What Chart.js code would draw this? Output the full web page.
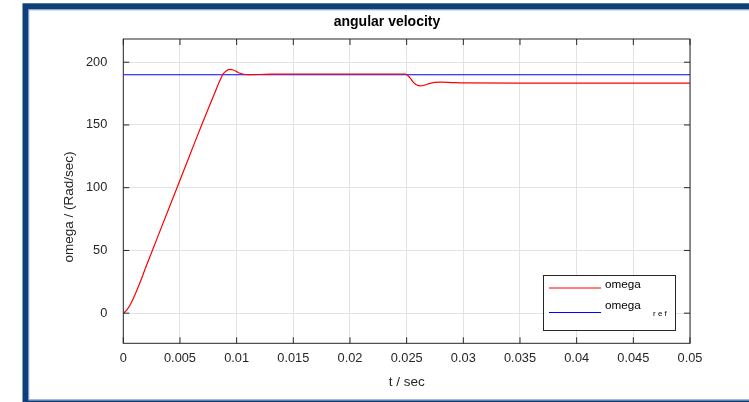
<!DOCTYPE html>
<html>
<head>
<meta charset="utf-8">
<script src="https://cdn.jsdelivr.net/npm/chart.js@4/dist/chart.umd.min.js"></script>
<style>
  html, body { margin: 0; padding: 0; background: #ffffff; overflow: hidden; }
  #wrap { width: 749px; height: 402px; overflow: hidden; }
  #c { display: block; }
</style>
</head>
<body>
<div id="wrap"><canvas id="c" width="749" height="402"></canvas></div>
<script>
// Simulated speed response: time (s) and angular velocity (rad/s)
const timeSec = [0, 0.0003, 0.0006, 0.001, 0.0015, 0.002, 0.003, 0.004, 0.005, 0.006, 0.007, 0.008,
  0.0085, 0.0088, 0.0091, 0.0094, 0.0097, 0.010, 0.0103, 0.0106, 0.011, 0.012, 0.013, 0.015,
  0.020, 0.0249, 0.0253, 0.0256, 0.0259, 0.0262, 0.0266, 0.027, 0.0275, 0.028, 0.029, 0.030,
  0.035, 0.040, 0.045, 0.050];
const omegaVals = [0, 2.5, 6.5, 14, 25, 37, 60, 83, 106, 129, 152, 174,
  185, 190.5, 193.2, 194.3, 193.8, 192.5, 191.2, 190.4, 190.1, 190.2, 190.5, 190.6,
  190.6, 190.6, 187.5, 184, 181.8, 181.1, 181.8, 183, 183.9, 184.1, 183.8, 183.5,
  183.4, 183.4, 183.4, 183.4];

// Reference speed
const refTime = [0, 0.05];
const omegaRef = [190, 190];

// Axis ticks
const xTicks = [0, 0.005, 0.01, 0.015, 0.02, 0.025, 0.03, 0.035, 0.04, 0.045, 0.05];
const xTickLabels = ['0', '0.005', '0.01', '0.015', '0.02', '0.025', '0.03', '0.035', '0.04', '0.045', '0.05'];
const yTicks = [0, 50, 100, 150, 200];
const yMin = -24, yMax = 218.5;

const FONT = '"Liberation Sans", Arial, Helvetica, sans-serif';
const AX = '#262626';

// Figure frame
const framePlugin = {
  id: 'frame',
  beforeDraw(chart) {
    const ctx = chart.ctx;
    ctx.save();
    ctx.fillStyle = '#ffffff';
    ctx.fillRect(0, 0, chart.width, chart.height);
    ctx.strokeStyle = '#0f3f79';
    ctx.lineWidth = 6;
    ctx.strokeRect(25.5, 6.3, 760, 397);
    ctx.strokeStyle = '#7b9ccb';
    ctx.lineWidth = 1;
    ctx.strokeRect(28.8, 9.8, 760, 390);
    ctx.restore();
  }
};

// Box, inward ticks, titles and legend
const decorPlugin = {
  id: 'decor',
  afterDatasetsDraw(chart) {
    const ctx = chart.ctx;
    const a = chart.chartArea;
    const xs = chart.scales.x, ys = chart.scales.y;
    ctx.save();
    ctx.strokeStyle = AX;
    ctx.lineWidth = 1;
    ctx.strokeRect(a.left, a.top, a.right - a.left, a.bottom - a.top);
    const tl = 6;
    ctx.beginPath();
    xTicks.forEach(v => {
      const px = xs.getPixelForValue(v);
      ctx.moveTo(px, a.bottom); ctx.lineTo(px, a.bottom - tl);
      ctx.moveTo(px, a.top); ctx.lineTo(px, a.top + tl);
    });
    yTicks.forEach(v => {
      const py = ys.getPixelForValue(v);
      ctx.moveTo(a.left, py); ctx.lineTo(a.left + tl, py);
      ctx.moveTo(a.right, py); ctx.lineTo(a.right - tl, py);
    });
    ctx.stroke();

    // titles
    ctx.fillStyle = '#000000';
    ctx.textAlign = 'center';
    ctx.textBaseline = 'middle';
    ctx.font = 'bold 14px ' + FONT;
    ctx.fillText('angular velocity', 387, 22);
    ctx.fillStyle = AX;
    ctx.font = '13.5px ' + FONT;
    ctx.fillText('t / sec', (a.left + a.right) / 2, 382);
    ctx.save();
    ctx.translate(69, 207);
    ctx.rotate(-Math.PI / 2);
    ctx.fillText('omega / (Rad/sec)', 0, 0);
    ctx.restore();

    // legend
    const lx = 543.5, ly = 275.5, lw = 132, lh = 55;
    ctx.fillStyle = '#ffffff';
    ctx.fillRect(lx, ly, lw, lh);
    ctx.strokeStyle = AX;
    ctx.strokeRect(lx, ly, lw, lh);
    const items = chart.data.datasets;
    const rows = [288, 312.5];
    items.forEach((ds, i) => {
      ctx.strokeStyle = ds.borderColor;
      ctx.lineWidth = 1;
      ctx.beginPath();
      ctx.moveTo(549, rows[i]); ctx.lineTo(601, rows[i]);
      ctx.stroke();
    });
    ctx.fillStyle = '#000000';
    ctx.textAlign = 'left';
    ctx.font = '11.7px ' + FONT;
    ctx.fillText('omega', 605, 285);
    ctx.fillText('omega', 605, 306);
    ctx.font = '8px ' + FONT;
    ctx.fillText('r e f', 653, 314);
    ctx.restore();
  }
};

const chart = new Chart(document.getElementById('c'), {
  type: 'line',
  data: {
    datasets: [
      {
        label: 'omega',
        data: timeSec.map((t, i) => ({ x: t, y: omegaVals[i] })),
        borderColor: '#ff0000',
        borderWidth: 1.2,
        pointRadius: 0,
        cubicInterpolationMode: 'monotone',
        fill: false
      },
      {
        label: 'omega_ref',
        data: refTime.map((t, i) => ({ x: t, y: omegaRef[i] })),
        borderColor: '#0000ff',
        borderWidth: 1,
        pointRadius: 0,
        fill: false
      }
    ]
  },
  options: {
    responsive: false,
    animation: false,
    devicePixelRatio: 1,
    layout: { padding: { left: 0, right: 59, top: 39, bottom: 0 } },
    plugins: { legend: { display: false }, title: { display: false }, tooltip: { enabled: false } },
    scales: {
      x: {
        type: 'linear',
        min: 0, max: 0.05,
        afterBuildTicks(s) { s.ticks = xTicks.map(v => ({ value: v })); },
        afterFit(s) { s.height = 402 - 343.3; },
        grid: { color: '#e3e3e3', drawTicks: false, lineWidth: 1 },
        border: { display: false },
        ticks: {
          padding: 7,
          color: AX,
          font: { family: FONT, size: 12.8 },
          maxRotation: 0,
          autoSkip: false,
          callback(v) { const k = xTicks.indexOf(v); return k >= 0 ? xTickLabels[k] : ''; }
        }
      },
      y: {
        type: 'linear',
        min: yMin, max: yMax,
        afterBuildTicks(s) { s.ticks = yTicks.map(v => ({ value: v })); },
        afterFit(s) { s.width = 123.3; },
        grid: { color: '#e3e3e3', drawTicks: false, lineWidth: 1 },
        border: { display: false },
        ticks: {
          padding: 16,
          color: AX,
          font: { family: FONT, size: 12.8 },
          autoSkip: false
        }
      }
    }
  },
  plugins: [framePlugin, decorPlugin]
});
</script>
</body>
</html>
